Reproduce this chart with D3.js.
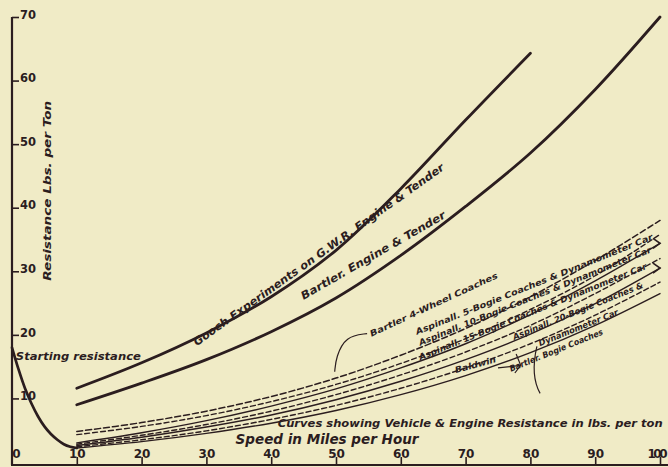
<!DOCTYPE html>
<html><head><meta charset="utf-8">
<script src="https://cdn.jsdelivr.net/npm/d3@7"></script>
<style>
html,body{margin:0;padding:0;background:#f0ebc6;}
svg{display:block;}
text{font-family:"DejaVu Sans",sans-serif;fill:#2b1d1f;}
</style></head><body>
<svg id="c" width="668" height="467"></svg>
<script>
// ---- data ----
const xTicks = [0,10,20,30,40,50,60,70,80,90,100];
const yTicks = [10,20,30,40,50,60,70];
const startSpeed = [0,1,2,3,4,5,6,7,8,9,10];
const startRes   = [18,14.6,11.6,9.2,7.2,5.6,4.4,3.5,2.8,2.4,2.2];
const goochSpeed = [10,20,30,40,50,60,70,80];
const goochRes   = [11.6,15.6,20.3,26.0,33.3,43.0,53.8,64.3];
const speeds = [10,20,30,40,50,60,70,80,90,100];
const bartEngine = [9.0,12.4,16.1,20.5,25.8,32.5,40.2,48.6,58.6,70.0];
const bart4Wheel = [4.8,6.2,8.0,10.3,13.2,16.8,21.0,26.0,31.7,38.0];
const asp5  = [3.0,4.6,6.5,8.8,11.5,14.8,18.6,23.2,28.5,34.4];
const asp10 = [4.3,5.6,7.3,9.5,12.2,15.5,19.4,24.0,29.3,35.8];
const asp15 = [2.6,3.9,5.5,7.4,9.8,12.7,16.1,20.1,24.9,30.5];
const asp20 = [2.8,4.2,5.9,8.0,10.6,13.7,17.3,21.5,26.5,32.0];
const baldwin = [2.4,3.5,4.9,6.7,8.9,11.6,14.8,18.6,23.1,28.3];
const bartBogie = [2.2,3.2,4.5,6.1,8.1,10.6,13.6,17.2,21.5,26.5];

const ink = "#2b1d1f";
const svg = d3.select("#c");
const x = d3.scaleLinear().domain([0,100]).range([12,660]);
const y = d3.scaleLinear().domain([0,70]).range([462,17]);

// axes
const yAxis = d3.axisRight(y).tickValues(yTicks).tickSize(7).tickFormat(d3.format("d")).tickPadding(1);
const gy = svg.append("g").attr("transform","translate(12,0)").call(yAxis);
gy.select(".domain").attr("d",`M0,${y(70)}V465`).attr("stroke",ink).attr("stroke-width",2.2);
gy.selectAll(".tick line").attr("stroke",ink).attr("stroke-width",1.6);
gy.selectAll(".tick text").attr("font-size",11.5).attr("font-weight","bold").attr("dy","0.1em");

const xAxis = d3.axisTop(x).tickValues(xTicks).tickSize(8).tickFormat(d3.format("d")).tickPadding(-2);
const gx = svg.append("g").attr("transform","translate(0,465)").call(xAxis);
gx.select(".domain").attr("d","M11,0H668").attr("stroke",ink).attr("stroke-width",2.2);
gx.selectAll(".tick line").attr("stroke",ink).attr("stroke-width",1.6).attr("stroke-opacity",d=>d===0?0:1);
gx.selectAll(".tick text").attr("font-size",12).attr("font-weight","bold").attr("dy","-0.05em")
  .attr("dx",d=>d===0?4:0)
  .attr("text-anchor",d=>d===100?"end":"middle")
  .attr("x",d=>d===100?7:0)
  .attr("textLength",d=>d===100?20:null);

const line = d3.line().x(d=>x(d[0])).y(d=>y(d[1])).curve(d3.curveCatmullRom.alpha(0.5));
function draw(sp, vals, w, dash){
  svg.append("path").attr("d",line(sp.map((s,i)=>[s,vals[i]])))
    .attr("fill","none").attr("stroke",ink).attr("stroke-width",w)
    .attr("stroke-dasharray",dash||null).attr("stroke-linecap","round");
}
draw(startSpeed,startRes,2.7);
draw(goochSpeed,goochRes,2.8);
draw(speeds,bartEngine,2.8);
draw(speeds,bart4Wheel,1.5,"6,3");
draw(speeds,asp10,1.4,"5,3");
draw(speeds,asp5,1.4);
draw(speeds,asp20,1.4,"5,3");
draw(speeds,asp15,1.4);
draw(speeds,baldwin,1.4,"5,3");
draw(speeds,bartBogie,1.4);

// arrow heads at right ends of solid lower curves
[asp5,asp15].forEach(v=>{
  const px=x(100), py=y(v[v.length-1]);
  svg.append("path").attr("d",`M${px-7},${py-5}L${px},${py}L${px-7},${py+5}`)
    .attr("fill","none").attr("stroke",ink).attr("stroke-width",1.6);
});

// labels
function lab(txt, sx, sv, ang, size, opts={}){
  const t = svg.append("text").attr("x",x(sx)).attr("y",y(sv))
    .attr("transform",`rotate(${ang},${x(sx)},${y(sv)})`)
    .attr("font-size",size).attr("font-weight","bold").attr("font-style","italic")
    .text(txt);
  if(opts.len) t.attr("textLength",opts.len).attr("lengthAdjust","spacingAndGlyphs");
  return t;
}
lab("Gooch Experiments on G.W.R. Engine & Tender",28.5,18.2,-35.5,11,{len:305});
lab("Bartler. Engine & Tender",45,25.5,-30,11,{len:165});
lab("Starting resistance",0.6,16.0,0,11,{len:125});
lab("Bartler  4-Wheel Coaches",55.5,19.7,-25,8.5,{len:140});
lab("Aspinall.  5-Bogie Coaches & Dynamometer Car",62.5,20.0,-22,8.5,{len:255});
lab("Aspinall.  10-Bogie Coaches & Dynamometer Car",63,18.3,-22,8.5,{len:250});
lab("Aspinall.  15-Bogie Coaches & Dynamometer Car",63,16.0,-22,8.5,{len:245});
lab("Aspinall.  20-Bogie Coaches &",77.5,19.2,-22,8.5,{len:140});
lab("Dynamometer Car",81.5,18.2,-22,8.5,{len:85});
lab("Baldwin",68.5,14.0,-15,8.5,{len:42});
lab("Bartler.  Bogie Coaches",77,14.2,-22,8.5,{len:100});
lab("Curves showing Vehicle & Engine Resistance in lbs. per ton",41,5.5,0,10,{len:385});
lab("Speed in Miles per Hour",34.5,2.9,0,14.5,{len:183});

svg.append("text").attr("transform",`translate(51,${y(28.5)}) rotate(-90)`)
  .attr("font-size",11).attr("font-weight","bold").attr("font-style","italic")
  .attr("textLength",180).attr("lengthAdjust","spacingAndGlyphs")
  .text("Resistance Lbs. per Ton");

// leader for Bartler 4-wheel
const lead = d3.line().curve(d3.curveBasis);
svg.append("path").attr("d",lead([[x(54.8),y(20.2)],[x(51.5),y(19.8)],[x(50),y(16.5)],[x(49.8),y(14.2)]]))
  .attr("fill","none").attr("stroke",ink).attr("stroke-width",1.2);
// Baldwin arrow and bracket for Bartler bogie
svg.append("path").attr("d",`M${x(75)},${y(14.8)}L${x(78.5)},${y(15.2)}`).attr("stroke",ink).attr("stroke-width",1.2);
svg.append("path").attr("d",`M${x(77.8)},${y(17.0)}L${x(78.5)},${y(15.2)}L${x(77.6)},${y(14.0)}`).attr("fill","none").attr("stroke",ink).attr("stroke-width",1.2);
svg.append("path").attr("d",`M${x(81)},${y(18.2)}C${x(80.5)},${y(16)} ${x(80.3)},${y(13)} ${x(81.5)},${y(10.8)}`).attr("fill","none").attr("stroke",ink).attr("stroke-width",1.2);
</script></body></html>
